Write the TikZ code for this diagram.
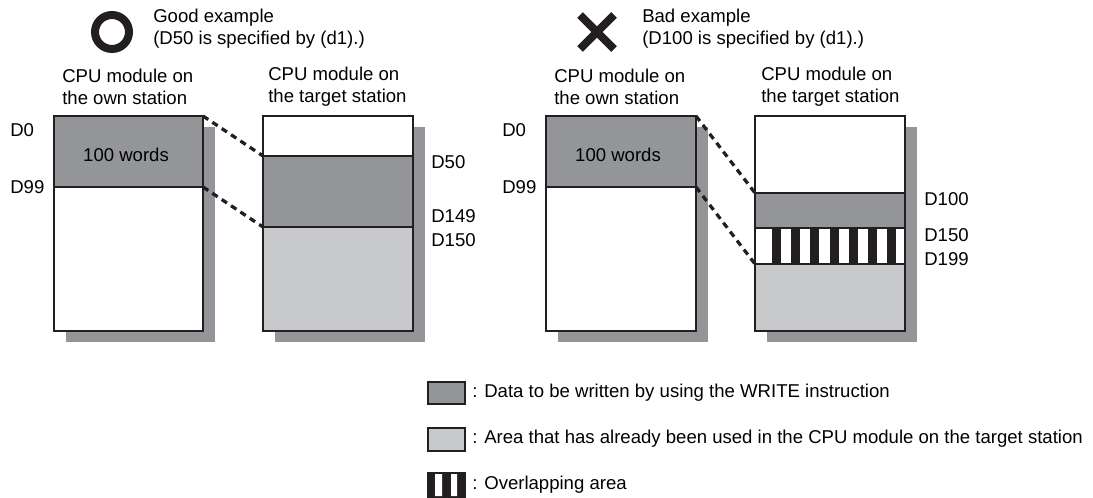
\documentclass[tikz,border=0pt]{standalone}
\usepackage{fontspec}
\setmainfont{Liberation Sans}
\usepackage{tikz}
\usetikzlibrary{positioning}
\definecolor{ink}{RGB}{35,31,32}
\definecolor{wdata}{RGB}{147,149,152}
\definecolor{used}{RGB}{200,201,203}
\tikzset{
  membox/.style={draw=ink,line width=1.9pt},
  shadow/.style={fill=wdata},
  link/.style={draw=ink,line width=2.3pt,dash pattern=on 4.5pt off 3.5pt},
  lbl/.style={inner sep=0pt,anchor=west},
  head/.style={inner sep=0pt,anchor=west,align=left},
  keybox/.style={draw=ink,line width=1.4pt}
}

\begin{document}
\begin{tikzpicture}[x=0.025cm,y=-0.025cm,font=\fontsize{13.2}{15.8}\selectfont]
\useasboundingbox (0,0) rectangle (1093,498);
%%% good example
\draw[ink,line width=5.7pt] (112,32) circle[radius=17];
\node[head] (goodtxt) at (153,29) {Good example\\(D50 is specified by (d1).)};
\node[head] (g-ownhd) at (62,87) {CPU module on\\the own station};
\node[head] (g-tgthd) at (268,87) {CPU module on\\the target station};
% shadows
\fill[shadow] (66,127) rectangle (215,342);
\fill[shadow] (275,127) rectangle (425,342);
% own station
\fill[white] (54,116) rectangle (203,331);
\fill[wdata] (54,116) rectangle (203,187);
\draw[membox] (54,187) -- (203,187);
\draw[membox] (54,116) rectangle (203,331);
\node (g-words) at (126,155) {100 words};
% target station
\fill[white] (263,116) rectangle (413,156);
\fill[wdata] (263,156) rectangle (413,227);
\fill[used] (263,227) rectangle (413,331);
\draw[membox] (263,156) -- (413,156) (263,227) -- (413,227);
\draw[membox] (263,116) rectangle (413,331);
\coordinate (g-own0) at (203,116);
\coordinate (g-own99) at (203,187);
\coordinate (g-tgt0) at (263,156);
\coordinate (g-tgt99) at (263,227);
\draw[link] (g-own0) -- (g-tgt0);
\draw[link] (g-own99) -- (g-tgt99);
\node[lbl] (g-d0) at (10,130) {D0};
\node[lbl] (g-d99) at (10,187) {D99};
\node[lbl] (g-d50) at (431,162) {D50};
\node[lbl] (g-d149) at (431,216) {D149};
\node[lbl] (g-d150) at (431,240) {D150};
%%% bad example
\draw[ink,line width=5.7pt] (580,15) -- (614,49) (614,15) -- (580,49);
\node[head] (badtxt) at (642,29) {Bad example\\(D100 is specified by (d1).)};
\node[head] (b-ownhd) at (554,87) {CPU module on\\the own station};
\node[head] (b-tgthd) at (761,87) {CPU module on\\the target station};
% shadows
\fill[shadow] (558,127) rectangle (708,342);
\fill[shadow] (767,127) rectangle (917,342);
% own station
\fill[white] (546,116) rectangle (696,331);
\fill[wdata] (546,116) rectangle (696,187);
\draw[membox] (546,187) -- (696,187);
\draw[membox] (546,116) rectangle (696,331);
\node (b-words) at (618,155) {100 words};
% target station
\fill[white] (755,116) rectangle (905,264);
\fill[wdata] (755,193) rectangle (905,228);
\foreach \k in {0,...,6}
  \fill[ink] (772+19.2*\k,228) rectangle (781+19.2*\k,264);
\fill[used] (755,264) rectangle (905,331);
\draw[membox] (755,193) -- (905,193) (755,228) -- (905,228) (755,264) -- (905,264);
\draw[membox] (755,116) rectangle (905,331);
\coordinate (b-own0) at (696,116);
\coordinate (b-own99) at (696,187);
\coordinate (b-tgt0) at (755,193);
\coordinate (b-tgt99) at (755,264);
\draw[link] (b-own0) -- (b-tgt0);
\draw[link] (b-own99) -- (b-tgt99);
\node[lbl] (b-d0) at (502,130) {D0};
\node[lbl] (b-d99) at (502,187) {D99};
\node[lbl] (b-d100) at (924,199) {D100};
\node[lbl] (b-d150) at (924,235) {D150};
\node[lbl] (b-d199) at (924,259) {D199};
%%% legend
\fill[wdata] (428,382) rectangle (465,404);
\draw[keybox] (428,382) rectangle (465,404);
\node[lbl] (key1) at (472,393) {: Data to be written by using the WRITE instruction};
\fill[used] (428,428) rectangle (465,451);
\draw[keybox] (428,428) rectangle (465,451);
\node[lbl] (key2) at (472,439) {: Area that has already been used in the CPU module on the target station};
\fill[ink] (427,472) rectangle (466,498);
\fill[white] (435,474) rectangle (442,496) (451,474) rectangle (457,496);
\node[lbl] (key3) at (472,485) {: Overlapping area};
\end{tikzpicture}
\end{document}
